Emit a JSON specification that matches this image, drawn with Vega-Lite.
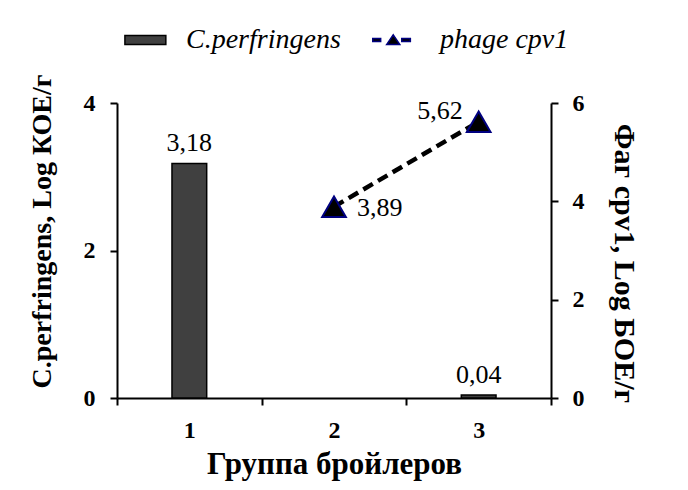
{
  "$schema": "https://vega.github.io/schema/vega-lite/v6.json",
  "width": 434,
  "height": 295,
  "autosize": {"type": "none"},
  "padding": {"left": 117, "top": 103, "right": 137, "bottom": 92},
  "background": "white",
  "datasets": {
    "bact": [
      {"group": "1", "value": 3.18, "label": "3,18", "series": "C.perfringens"},
      {"group": "3", "value": 0.04, "label": "0,04", "series": "C.perfringens"}
    ],
    "phage": [
      {"group": "2", "value": 3.89, "label": "3,89", "series": "phage cpv1"},
      {"group": "3", "value": 5.62, "label": "5,62", "series": "phage cpv1"}
    ]
  },
  "config": {
    "view": {"stroke": null},
    "font": "Liberation Serif",
    "legend": {
      "labelFont": "Liberation Serif",
      "labelFontStyle": "italic",
      "labelFontSize": 28,
      "labelColor": "black",
      "labelLimit": 300,
      "labelOffset": 5,
      "symbolSize": 3844,
      "symbolStrokeWidth": 1.5
    },
    "axis": {
      "grid": false,
      "domainColor": "black",
      "domainWidth": 2,
      "tickColor": "black",
      "tickWidth": 2,
      "tickSize": 7,
      "labelFont": "Liberation Serif",
      "labelFontWeight": "bold",
      "labelFontSize": 24,
      "labelColor": "black",
      "titleFont": "Liberation Serif",
      "titleFontWeight": "bold",
      "titleFontSize": 28,
      "titleColor": "black"
    }
  },
  "encoding": {
    "x": {
      "field": "group",
      "type": "ordinal",
      "scale": {"domain": ["1", "2", "3"], "paddingInner": 0, "paddingOuter": 0},
      "axis": {
        "title": "Группа бройлеров",
        "titleFontSize": 31,
        "labelAngle": 0,
        "tickBand": "extent",
        "labelPadding": 13,
        "titlePadding": 7
      }
    }
  },
  "layer": [
    {
      "data": {"name": "bact"},
      "encoding": {
        "y": {
          "field": "value",
          "type": "quantitative",
          "scale": {"domain": [0, 4], "nice": false},
          "axis": {
            "orient": "left",
            "values": [0, 2, 4],
            "title": "C.perfringens, Log КОЕ/г",
            "labelPadding": 15,
            "titlePadding": 27,
            "titleY": 128
          }
        }
      },
      "layer": [
        {
          "mark": {"type": "bar", "width": {"band": 0.24}, "stroke": "black", "strokeWidth": 1.5},
          "encoding": {
            "color": {
              "field": "series",
              "type": "nominal",
              "scale": {"domain": ["C.perfringens"], "range": ["#404040"]},
              "legend": {
                "title": null,
                "orient": "top",
                "direction": "horizontal",
                "offset": 49,
                "padding": 0,
                "symbolSize": 3844,
                "symbolType": "M-0.777,-0.149H0.543V0.149H-0.777Z",
                "symbolFillColor": "#404040",
                "symbolStrokeColor": "#000000",
                "symbolStrokeWidth": 1.5,
                "symbolOpacity": 1
              }
            }
          }
        },
        {
          "mark": {"type": "text", "baseline": "alphabetic", "dy": -12, "fontSize": 26, "font": "Liberation Serif", "color": "black"},
          "encoding": {"text": {"field": "label"}}
        }
      ]
    },
    {
      "data": {"name": "phage"},
      "encoding": {
        "y": {
          "field": "value",
          "type": "quantitative",
          "scale": {"domain": [0, 6], "nice": false},
          "axis": {
            "orient": "right",
            "values": [0, 2, 4, 6],
            "title": "Фаг cpv1, Log БОЕ/г",
            "titleFontSize": 30,
            "labelPadding": 14,
            "titlePadding": 24,
            "titleY": 160
          }
        }
      },
      "layer": [
        {
          "mark": {"type": "line", "color": "black", "strokeDash": [11, 6], "strokeWidth": 4.5}
        },
        {
          "mark": {"type": "point", "shape": "triangle-up", "filled": true, "fill": "black", "strokeWidth": 2, "size": 560, "opacity": 1},
          "encoding": {
            "stroke": {
              "field": "series",
              "type": "nominal",
              "scale": {"domain": ["phage cpv1"], "range": ["#000080"]},
              "legend": {
                "title": null,
                "orient": "top",
                "direction": "horizontal",
                "offset": 49,
                "padding": 0,
                "labelOffset": 27,
                "symbolSize": 3844,
                "symbolType": "M-0.266,-0.048H-0.011V0.048H-0.266Z M0.181,0.149L0.394,-0.17L0.606,0.149Z M0.67,-0.048H0.947V0.048H0.67Z",
                "symbolFillColor": "#000000",
                "symbolStrokeColor": "#000080",
                "symbolStrokeWidth": 1.5,
                "symbolOpacity": 1
              }
            }
          }
        },
        {
          "transform": [{"filter": "datum.group === '2'"}],
          "mark": {"type": "text", "align": "left", "baseline": "middle", "dx": 23, "dy": 1, "fontSize": 26, "font": "Liberation Serif", "color": "black"},
          "encoding": {"text": {"field": "label"}}
        },
        {
          "transform": [{"filter": "datum.group === '3'"}],
          "mark": {"type": "text", "align": "right", "baseline": "middle", "dx": -16, "dy": -11, "fontSize": 26, "font": "Liberation Serif", "color": "black"},
          "encoding": {"text": {"field": "label"}}
        }
      ]
    }
  ],
  "resolve": {"scale": {"y": "independent"}}
}
